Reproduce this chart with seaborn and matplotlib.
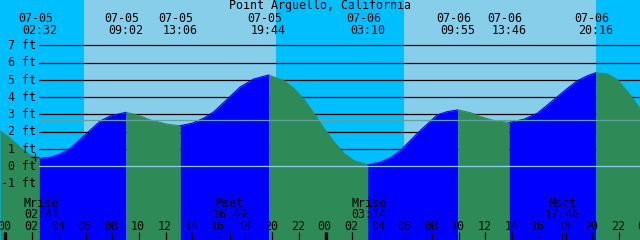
import numpy as np
import pandas as pd
import matplotlib
matplotlib.use("Agg")
import matplotlib.pyplot as plt
import seaborn as sns

# ---------------- data ----------------
title = "Point Arguello, California"

# water level curve (hours from 07-05 00:00, feet)
hours = [-0.41, 0.35, 1.10, 1.85, 2.533, 3.35, 4.11, 4.86, 5.61, 6.36, 7.11, 7.86,
         9.033, 10.11, 10.86, 12.15, 13.1, 14.0, 14.86, 15.62, 16.61, 17.62, 18.62,
         19.733, 20.87, 21.62, 22.38, 23.13, 23.88, 24.63, 25.38, 26.14, 27.167,
         28.14, 28.89, 29.65, 30.4, 31.15, 32.38, 33.13, 33.917, 34.88, 35.63,
         36.64, 37.767, 38.89, 39.89, 40.65, 41.4, 42.15, 42.89, 43.65, 44.267,
         45.16, 45.91, 46.66, 47.66]
level_ft = [2.05, 1.62, 1.10, 0.65, 0.46, 0.52, 0.71, 1.04, 1.56, 2.10, 2.62, 2.91,
            3.12, 2.91, 2.68, 2.43, 2.35, 2.49, 2.78, 3.15, 3.87, 4.60, 5.05,
            5.28, 4.95, 4.51, 3.87, 3.06, 2.20, 1.42, 0.75, 0.32, 0.09,
            0.25, 0.50, 0.94, 1.52, 2.10, 2.97, 3.16, 3.26, 3.10, 2.87,
            2.64, 2.54, 2.72, 3.07, 3.55, 4.03, 4.51, 4.95, 5.24, 5.41,
            5.34, 4.99, 4.31, 3.26]

# tide events (high / low)
event_day = [0, 0, 0, 0, 1, 1, 1, 1]
event_dates = ["07-05", "07-05", "07-05", "07-05", "07-06", "07-06", "07-06", "07-06"]
event_times = ["02:32", "09:02", "13:06", "19:44", "03:10", "09:55", "13:46", "20:16"]

# sun
sun_day = [0, 1]
sunrise = ["05:53", "05:53"]
sunset = ["20:17", "20:17"]

# moon
moon_day = [0, 0, 1, 1]
moon_labels = ["Mrise", "Mset", "Mrise", "Mset"]
moon_times = ["02:41", "16:49", "03:14", "17:46"]

# axis labels
y_levels = [-1, 0, 1, 2, 3, 4, 5, 6, 7]
grid_levels = [1, 2, 3, 4, 5, 6, 7]
hour_labels = ["00", "02", "04", "06", "08", "10", "12", "14", "16", "18", "20", "22"]
msl_ft = 2.66
now_hour, now_ft = 2.2, 0.55

# ---------------- helpers ----------------
W, H = 640, 240
X0_PX, PX_PER_H = 5.5, 640 / 48.0
ZERO_PX, PX_PER_FT = 166.3, 17.29


def hx(px):
    return (px - X0_PX) / PX_PER_H


def fy(py):
    return (ZERO_PX - py) / PX_PER_FT


def to_h(day, hhmm):
    hh, mm = hhmm.split(":")
    return day * 24 + int(hh) + int(mm) / 60.0


C_NIGHT = "#00BFFF"
C_DAY = "#87CEEB"
C_FLOOD = "#0000FF"
C_EBB = "#2E8B57"
C_MSL = "#5FA39B"
C_DATUM = "#8ECDEB"
FONT = dict(fontfamily="DejaVu Sans Mono", fontsize=8.4, color="black")

sns.set_theme(style="white")
plt.rcParams["font.family"] = ["DejaVu Sans Mono", "DejaVu Sans"]

fig = plt.figure(figsize=(6.4, 2.4), dpi=100)
ax = fig.add_axes([0, 0, 1, 1])
XMIN, XMAX = hx(0), hx(W)
YMIN, YMAX = fy(H), fy(0)
ax.set_xlim(XMIN, XMAX)
ax.set_ylim(YMIN, YMAX)
ax.axis("off")

# sky background (night / day)
ax.axvspan(XMIN, XMAX, color=C_NIGHT, zorder=0, lw=0)
for d, sr, ss in zip(sun_day, sunrise, sunset):
    ax.axvspan(to_h(d, sr), to_h(d, ss), color=C_DAY, zorder=0.5, lw=0)

# grid lines behind water
for lv in grid_levels:
    ax.axhline(lv, xmin=39 / W, xmax=1, color="black", lw=0.9, zorder=1)

# water: flood (rising) blue, ebb (falling) green
ev_h = [to_h(d, t) for d, t in zip(event_day, event_times)]
bounds = [XMIN - 1] + ev_h + [XMAX + 1]
df = pd.DataFrame({"hour": hours, "ft": level_ft})
seg_rows = []
for i in range(len(bounds) - 1):
    a, b = bounds[i], bounds[i + 1]
    sub = df[(df.hour >= a - 0.02) & (df.hour <= b + 0.02)].copy()
    phase = "ebb" if i % 2 == 0 else "flood"
    col = C_EBB if phase == "ebb" else C_FLOOD
    ax.fill_between(sub.hour, sub.ft, YMIN - 1, color=col, lw=0, zorder=2)
    sub["phase"] = phase
    sub["seg"] = i
    seg_rows.append(sub)
segdf = pd.concat(seg_rows)
sns.lineplot(data=segdf, x="hour", y="ft", hue="phase", units="seg",
             estimator=None, palette={"ebb": C_EBB, "flood": C_FLOOD},
             lw=0.8, legend=False, ax=ax, zorder=2.5)
ax.set_xlim(XMIN, XMAX)
ax.set_ylim(YMIN, YMAX)
ax.axis("off")

# datum and mean sea level lines
ax.axhline(0, xmin=39 / W, xmax=1, color=C_DATUM, lw=0.9, zorder=3)
ax.axhline(msl_ft, xmin=39 / W, xmax=1, color=C_MSL, lw=0.9, zorder=3)

# "now" marker
ax.plot([now_hour], [now_ft], marker="+", color="black", ms=6, mew=0.9, zorder=4)

# y labels
for lv in y_levels:
    ax.text(hx(36.5), lv - 3.7 / PX_PER_FT, f"{lv} ft", ha="right", va="baseline",
            zorder=5, **FONT)

# title
ax.text(hx(320), fy(8.7), title, ha="center", va="baseline", zorder=5, **FONT)

# tide event labels
for h, dt, tm in zip(ev_h, event_dates, event_times):
    ax.text(h - 4 / PX_PER_H, fy(21.7), dt, ha="center", va="baseline", zorder=5, **FONT)
    ax.text(h, fy(34.0), tm, ha="center", va="baseline", zorder=5, **FONT)

# moon labels
for d, lab, tm in zip(moon_day, moon_labels, moon_times):
    h = to_h(d, tm)
    ax.text(h, fy(206.7), lab, ha="center", va="baseline", zorder=5, **FONT)
    ax.text(h, fy(218.3), tm, ha="center", va="baseline", zorder=5, **FONT)
    ax.vlines(h, fy(240), fy(232), color="black", lw=0.7, zorder=5)

# hour ticks and labels
for d in range(3):
    for lab in hour_labels:
        h = d * 24 + int(lab)
        if h > XMAX + 1:
            continue
        ax.text(h - 1 / PX_PER_H, fy(230), lab, ha="center", va="baseline", zorder=5,
                clip_on=False, **FONT)
        lw = 2.4 if lab == "00" else 0.9
        ax.vlines(h, fy(240), fy(232), color="black", lw=lw, zorder=5)

fig.savefig("out.png", dpi=100)
